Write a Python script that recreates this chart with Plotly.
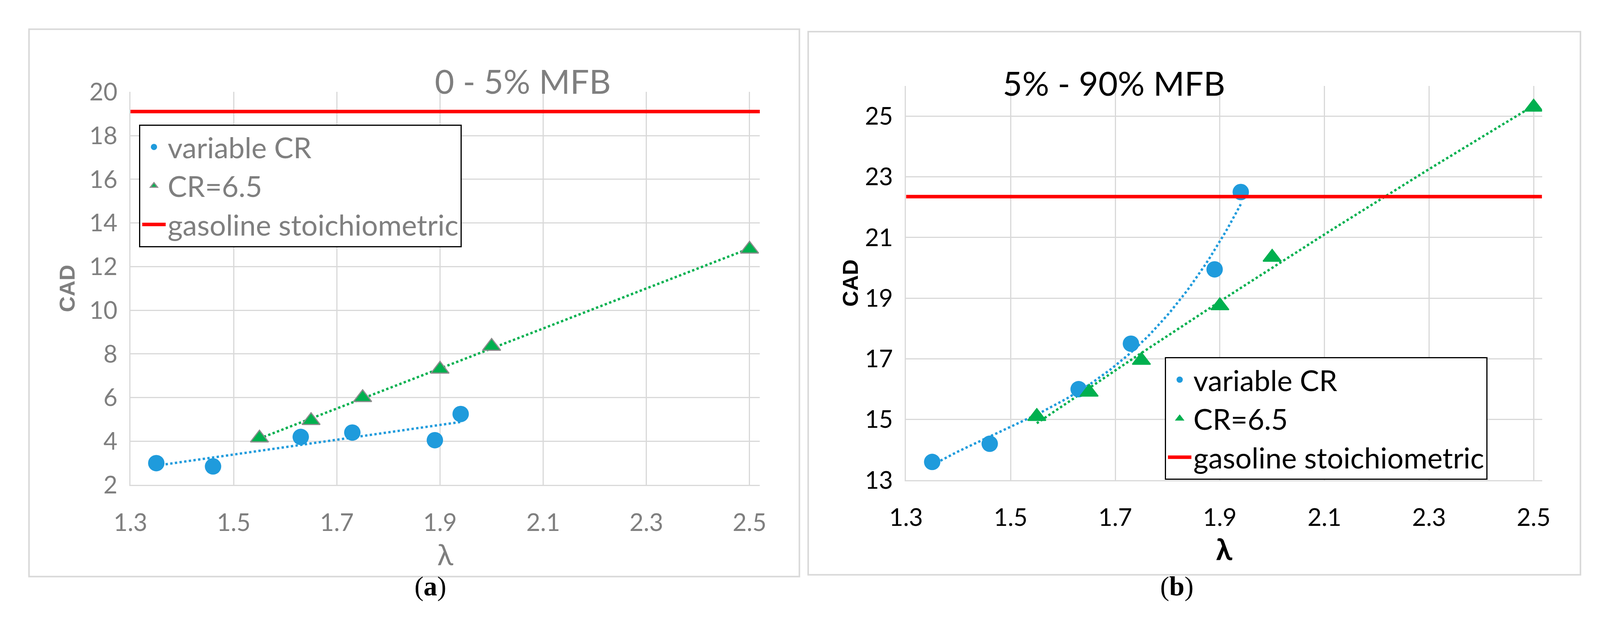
import numpy as np
import plotly.graph_objects as go

lam_var = [1.35, 1.46, 1.63, 1.73, 1.89, 1.94]
lam_cr = [1.55, 1.65, 1.75, 1.90, 2.00, 2.50]
a_var = [3.0, 2.85, 4.2, 4.4, 4.05, 5.25]
a_cr = [4.15, 4.95, 6.0, 7.3, 8.35, 12.8]
a_gas = 19.1
b_var = [13.6, 14.2, 16.0, 17.5, 19.95, 22.5]
b_cr = [15.1, 15.9, 16.95, 18.75, 20.35, 25.3]
b_gas = 22.35

BLUE = "#1f9bdc"
GREEN = "#00b04f"
RED = "#ff0000"
FONT = "Lato"

def trend(x, y, deg):
    c = np.polyfit(x, y, deg)
    xs = np.linspace(min(x), max(x), 80)
    return xs, np.polyval(c, xs)

fig = go.Figure()

def add_panel(xa, ya, legend, vy, cy, gas, dv, dc, xmax, gray_marker_edge):
    xs, ys = trend(lam_var, vy, dv)
    fig.add_trace(go.Scatter(x=xs, y=ys, mode="lines", line=dict(color=BLUE, width=6, dash="dot"),
                             showlegend=False, xaxis=xa, yaxis=ya, hoverinfo="skip"))
    xs, ys = trend(lam_cr, cy, dc)
    fig.add_trace(go.Scatter(x=xs, y=ys, mode="lines", line=dict(color=GREEN, width=6, dash="dot"),
                             showlegend=False, xaxis=xa, yaxis=ya, hoverinfo="skip"))
    fig.add_trace(go.Scatter(x=lam_var, y=vy, mode="markers", name="variable CR", legend=legend,
                             marker=dict(color=BLUE, size=42, symbol="circle"), xaxis=xa, yaxis=ya))
    fig.add_trace(go.Scatter(x=lam_cr, y=cy, mode="markers", name="CR=6.5", legend=legend,
                             marker=dict(color=GREEN, size=40, symbol="triangle-up",
                                         line=dict(color="#8c8c8c" if gray_marker_edge else GREEN, width=3)),
                             xaxis=xa, yaxis=ya))
    fig.add_trace(go.Scatter(x=[1.3, xmax], y=[gas, gas], mode="lines", line=dict(color=RED, width=9),
                             name="gasoline stoichiometric", legend=legend, xaxis=xa, yaxis=ya))

add_panel("x", "y", "legend", a_var, a_cr, a_gas, 1, 1, 2.52, True)
add_panel("x2", "y2", "legend2", b_var, b_cr, b_gas, 3, 2, 2.516, False)

def axstyle(col, standoff):
    return dict(showgrid=True, gridcolor="#d9d9d9", gridwidth=3, zeroline=False,
                showline=True, linecolor="#d9d9d9", linewidth=3, ticklabelstandoff=standoff,
                tickfont=dict(family=FONT, size=62, color=col), ticks="")

gray = "#7f7f7f"
ticks_x = [1.3, 1.5, 1.7, 1.9, 2.1, 2.3, 2.5]
fig.update_layout(
    paper_bgcolor="white", plot_bgcolor="white",
    margin=dict(l=0, r=0, t=0, b=0),
    xaxis=dict(domain=[0.0705, 0.4718], range=[1.3, 2.52], tickvals=ticks_x,
               ticktext=[f"{v:.1f}" for v in ticks_x], anchor="y",
               title=dict(text="λ", font=dict(family=FONT, size=76, color=gray), standoff=0), **axstyle(gray, 40)),
    yaxis=dict(domain=[0.226, 0.878], range=[2, 20], dtick=2, anchor="x",
               title=dict(text="<b>CAD</b>", font=dict(family="Liberation Sans", size=56, color=gray), standoff=20),
               **axstyle(gray, 18)),
    xaxis2=dict(domain=[0.565, 0.9705], range=[1.3, 2.516], tickvals=ticks_x,
                ticktext=[f"{v:.1f}" for v in ticks_x], anchor="y2",
                title=dict(text="<b>λ</b>", font=dict(family=FONT, size=76, color="black"), standoff=0),
                **axstyle("black", 40)),
    yaxis2=dict(domain=[0.234, 0.888], range=[13, 26], tickvals=[13, 15, 17, 19, 21, 23, 25], anchor="x2",
                title=dict(text="<b>CAD</b>", font=dict(family="Liberation Sans", size=56, color="black"), standoff=0),
                **axstyle("black", 18)),
    legend=dict(x=0.076, y=0.824, xanchor="left", yanchor="top", bordercolor="black", borderwidth=3,
                bgcolor="white", font=dict(family=FONT, size=74, color=gray), itemwidth=60,
                traceorder="normal"),
    legend2=dict(x=0.730, y=0.438, xanchor="left", yanchor="top", bordercolor="black", borderwidth=3,
                 bgcolor="white", font=dict(family=FONT, size=74, color="black"), itemwidth=60,
                 traceorder="normal"),
    shapes=[
        dict(type="rect", xref="paper", yref="paper", x0=0.0058, x1=0.497, y0=0.074, y1=0.982,
             line=dict(color="#d9d9d9", width=4)),
        dict(type="rect", xref="paper", yref="paper", x0=0.5026, x1=0.995, y0=0.077, y1=0.978,
             line=dict(color="#d9d9d9", width=4)),
    ],
    annotations=[
        dict(text="0 - 5% MFB", x=0.264, y=0.931, xref="paper", yref="paper", showarrow=False,
             font=dict(family=FONT, size=86, color=gray)),
        dict(text="5% - 90% MFB", x=0.769, y=0.928, xref="paper", yref="paper", showarrow=False,
             font=dict(family=FONT, size=86, color="black")),
        dict(text="(<b>a</b>)", x=0.251, y=0.032, xref="paper", yref="paper", showarrow=False,
             font=dict(family="Liberation Serif", size=70, color="black")),
        dict(text="(<b>b</b>)", x=0.749, y=0.032, xref="paper", yref="paper", showarrow=False,
             font=dict(family="Liberation Serif", size=70, color="black")),
    ],
)

fig.write_html("out.html")
